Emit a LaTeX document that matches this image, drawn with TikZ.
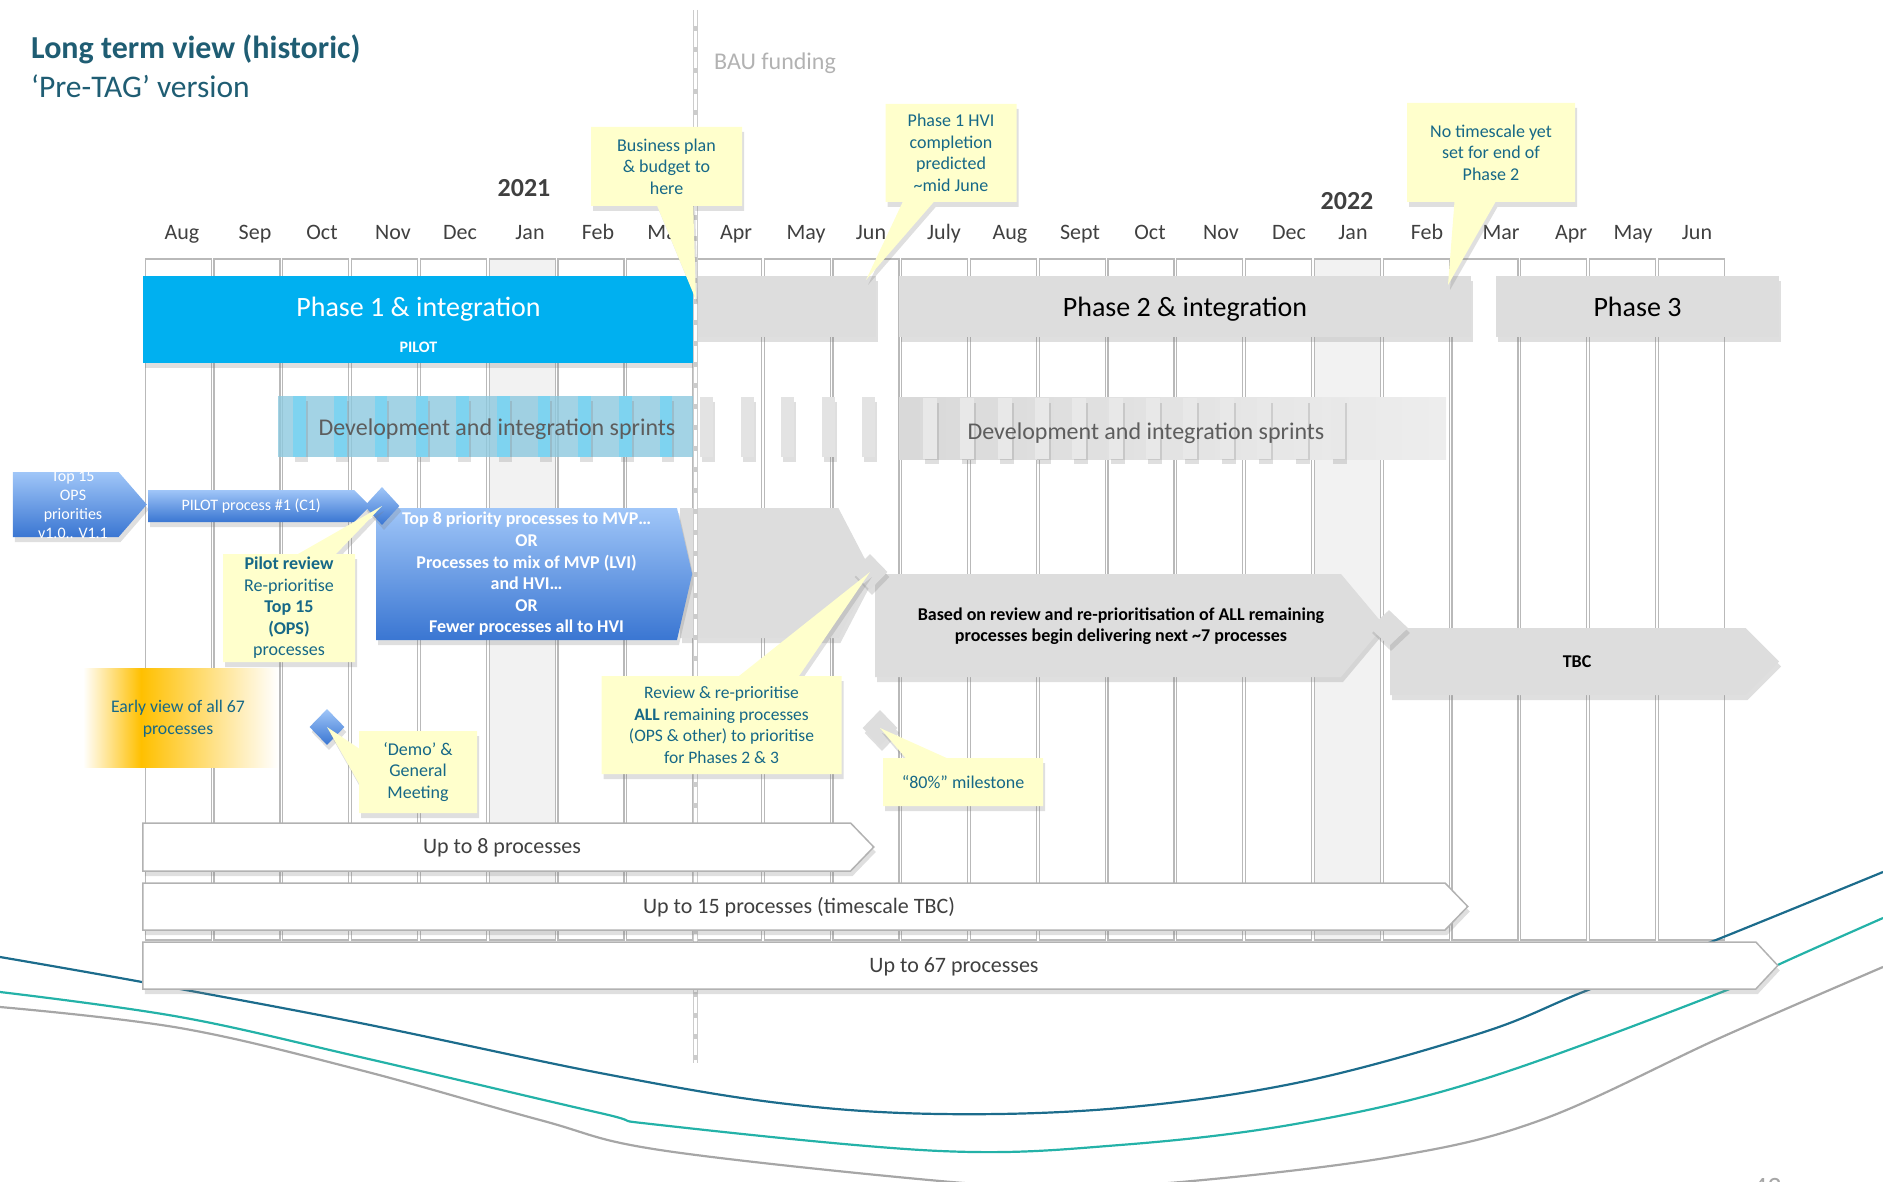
\documentclass[tikz,border=0pt]{standalone}
\usepackage{fontspec}
\setmainfont{Carlito}
\usetikzlibrary{shapes.symbols, shapes.callouts, shapes.geometric, shadows}

\definecolor{titleteal}{RGB}{31,93,115}
\definecolor{noteteal}{RGB}{22,104,135}
\definecolor{noteyellow}{RGB}{255,255,204}
\definecolor{phaseblue}{RGB}{0,176,240}
\definecolor{bargray}{RGB}{221,221,221}
\definecolor{lightblue}{RGB}{160,198,248}
\definecolor{darkblue}{RGB}{58,118,210}
\definecolor{sprintbox}{RGB}{140,200,222}
\definecolor{sprintbar}{RGB}{126,211,240}
\definecolor{curveteal}{RGB}{28,108,140}
\definecolor{curvegreen}{RGB}{36,178,168}
\definecolor{curvegray}{RGB}{166,166,166}
\definecolor{darktext}{RGB}{64,64,64}
\definecolor{earlyorange}{RGB}{255,192,0}

\begin{document}
\begin{tikzpicture}[x = 1pt, y = -1pt,
    shadowed/.style = {drop shadow = {shadow xshift = 2pt, shadow yshift = -5pt, opacity = 0.25}},
    monthcol/.style = {draw = gray!55, line width = 1.2pt},
    monthlabel/.style = {anchor = base, text = darktext, font = \fontsize{22}{24}\selectfont},
    yearlabel/.style = {anchor = base, text = darktext, font = \bfseries\fontsize{26}{28}\selectfont},
    phasebar/.style = {rectangle, inner sep = 0pt, minimum height = 61pt, text depth = 0pt, fill = bargray, shadowed, font = \fontsize{28}{32}\selectfont},
    sprintlabel/.style = {text = darktext!85, font = \fontsize{24}{26}\selectfont},
    pentagon/.style = {signal, signal to = east, signal from = nowhere, anchor = west, inner sep = 0pt, align = center, shadowed},
    bluearrow/.style = {pentagon, top color = lightblue, bottom color = darkblue, text = white},
    grayarrow/.style = {pentagon, fill = bargray},
    whitearrow/.style = {pentagon, fill = white, draw = gray!60, line width = 1.5pt},
    graytext/.style = {align = center, text = black, font = \bfseries\fontsize{18}{21}\selectfont},
    whitetext/.style = {text = darktext, font = \fontsize{22}{24}\selectfont},
    milestone/.style = {diamond, inner sep = 0pt, minimum width = 35pt, minimum height = 36pt, shadowed},
    callnote/.style = {rectangle callout, fill = noteyellow, text = noteteal, align = center, inner sep = 2pt, font = \fontsize{18}{21.5}\selectfont, shadowed}
]
    \useasboundingbox (0, 0) rectangle (1883, 1182);

    \foreach \i in {5, 17}
        \fill[gray!10] (145.3+68.77*\i, 259) rectangle ++(66, 681);
    \foreach \i in {0,...,22}
        \draw[monthcol] (145.3+68.77*\i, 259) rectangle ++(66, 681);

    \draw[curveteal, line width = 2.2pt] plot[smooth, tension = 0.6] coordinates {(0,957) (142,982) (360,1023) (600,1073) (779,1103) (940,1114) (1120,1108) (1301,1082) (1481,1033) (1583,992) (1716,940) (1883,872)};
    \draw[curvegreen, line width = 2.2pt] plot[smooth, tension = 0.6] coordinates {(0,992) (180,1017) (360,1057) (600,1113) (660,1125) (940,1151) (1120,1145) (1301,1123) (1481,1080) (1722,992) (1782,963) (1883,918)};
    \draw[curvegray, line width = 2.2pt] plot[smooth, tension = 0.6] coordinates {(0,1007) (180,1028) (360,1070) (540,1120) (660,1150) (940,1181) (1060,1186) (1181,1182) (1391,1157) (1541,1120) (1722,1037) (1883,967)};

    \node[anchor = base west, inner sep = 0pt, text = titleteal, font = \bfseries\fontsize{32}{34}\selectfont] (title) at (31, 59) {Long term view (historic)};
    \node[anchor = base west, inner sep = 0pt, text = titleteal, font = \fontsize{31.5}{34}\selectfont] (subtitle) at (31, 98) {‘Pre-TAG’ version};
    \node[anchor = base west, inner sep = 0pt, text = gray!60, font = \fontsize{24}{26}\selectfont] (bau) at (714, 70) {BAU funding};

    \node[yearlabel] (y2021) at (524, 197) {2021};
    \node[yearlabel] (y2022) at (1347, 210) {2022};
    \foreach \m/\x [count = \n] in {Aug/182, Sep/255, Oct/322, Nov/393, Dec/460, Jan/530, Feb/598, Mar/666, Apr/736, May/806, Jun/871, July/944, Aug/1010, Sept/1080, Oct/1150, Nov/1221, Dec/1289, Jan/1353, Feb/1427, Mar/1501, Apr/1571, May/1633, Jun/1697}
        \node[monthlabel] (month\n) at (\x, 240) {\m};

    \node[rectangle, inner sep = 0pt, minimum width = 551pt, minimum height = 61pt, text depth = 0pt, fill = phaseblue, text = white, font = \fontsize{28}{32}\selectfont] (phase1) at (418.5, 306.5) {Phase 1 \& integration};
    \node[rectangle, inner sep = 0pt, minimum width = 551pt, minimum height = 32pt, fill = phaseblue, text = white, font = \bfseries\fontsize{16}{18}\selectfont, shadowed] (pilot) at (418.5, 347) {PILOT};
    \node[phasebar, minimum width = 180pt] (phase1b) at (786, 306.5) {};
    \node[phasebar, minimum width = 572pt] (phase2) at (1185, 306.5) {Phase 2 \& integration};
    \node[phasebar, minimum width = 283pt] (phase3) at (1637.5, 306.5) {Phase 3};

    \fill[sprintbox, fill opacity = 0.8] (278, 396) rectangle (695, 457);
    \foreach \k in {0,...,9}
        \fill[sprintbar, shadowed] (293.4+40.7*\k, 396) rectangle ++(12.6, 61);
    \foreach \k in {0,...,4}
        \fill[gray!22, shadowed] (700.4+40.5*\k, 397) rectangle ++(12.6, 60);
    \shade[left color = gray!30, right color = gray!14] (899, 397) rectangle (1446, 459);
    \foreach \k in {0,...,11}
        \fill[gray!18, shadowed] (923.4+37.05*\k, 398) rectangle ++(14, 61);
    \node[sprintlabel] (sprintsA) at (497, 429) {Development and integration sprints};
    \node[sprintlabel] (sprintsB) at (1146, 433) {Development and integration sprints};

    \node[bluearrow, minimum width = 134pt, minimum height = 65pt, signal pointer angle = 98] (top15) at (12.6, 504.5) {};
    \node[text = white, align = center, font = \fontsize{16}{19}\selectfont] (top15txt) at (73, 504.5) {Top 15\\ OPS\\ priorities\\ v1.0.. V1.1};
    \node[bluearrow, minimum width = 222pt, minimum height = 32pt, signal pointer angle = 90, font = \fontsize{16}{18}\selectfont] (pilotproc) at (148, 506) {PILOT process \#1 (C1)};
    \node[grayarrow, minimum width = 192pt, minimum height = 130pt, signal pointer angle = 125] (top8b) at (680, 573) {};
    \node[bluearrow, minimum width = 316pt, minimum height = 132pt, signal pointer angle = 154, font = \bfseries\fontsize{18}{21.6}\selectfont] (top8) at (376, 574) {Top 8 priority processes to MVP…\\ OR\\ Processes to mix of MVP (LVI)\\ and HVI…\\ OR\\ Fewer processes all to HVI};
    \node[grayarrow, minimum width = 509pt, minimum height = 103pt, signal pointer angle = 100] (based) at (875, 625.5) {};
    \node[graytext] (basedtxt) at (1121, 626.5) {Based on review and re-prioritisation of ALL remaining\\ processes begin delivering next \textasciitilde7 processes};
    \node[grayarrow, minimum width = 389pt, minimum height = 67pt, signal pointer angle = 90] (tbc) at (1390, 661.5) {};
    \node[graytext] (tbctxt) at (1577, 661.5) {TBC};

    \node[milestone, top color = lightblue, bottom color = darkblue, minimum height = 38pt] (pilotend) at (382, 506) {};
    \node[milestone, top color = lightblue, bottom color = darkblue] (demo) at (327, 727) {};
    \node[milestone, fill = bargray] (review) at (870, 572) {};
    \node[milestone, fill = bargray] (eighty) at (880, 728) {};
    \node[milestone, fill = bargray, minimum width = 38pt] (tbcstart) at (1389, 628) {};

    \shade[left color = white, right color = earlyorange] (83, 668) rectangle (141, 767);
    \shade[left color = earlyorange, right color = white] (141, 668) rectangle (278, 767);
    \node[text = noteteal, align = center, font = \fontsize{17.7}{21.5}\selectfont] (early) at (178, 719) {Early view of all 67\\ processes};

    \coordinate (bauTop) at (695, 10);
    \coordinate (bauBot) at (695, 1063);
    \draw[gray!40, line width = 5pt] (bauTop) -- (bauBot);
    \draw[white, line width = 3pt, dash pattern = on 16pt off 5pt] (bauTop) -- (bauBot);

    \node[whitearrow, minimum width = 731pt, minimum height = 48pt, signal pointer angle = 92] (upto8) at (142, 847) {};
    \node[whitetext] (upto8txt) at (502, 848) {Up to 8 processes};
    \node[whitearrow, minimum width = 1325pt, minimum height = 47pt, signal pointer angle = 92] (upto15) at (142, 906.5) {};
    \node[whitetext] (upto15txt) at (799, 907.5) {Up to 15 processes (timescale TBC)};
    \node[whitearrow, minimum width = 1635pt, minimum height = 47pt, signal pointer angle = 94] (upto67) at (142, 965.5) {};
    \node[whitetext] (upto67txt) at (954, 966.5) {Up to 67 processes};

    \coordinate (planTip) at (696, 300);
    \coordinate (hviTip) at (866, 280);
    \coordinate (phase2Tip) at (1448, 285);
    \node[callnote, minimum width = 151pt, minimum height = 79pt, callout absolute pointer = {(planTip)}, callout pointer width = 36pt] (plan) at (666.5, 166.5) {Business plan\\ \& budget to\\ here};
    \node[callnote, minimum width = 131pt, minimum height = 98pt, callout absolute pointer = {(hviTip)}, callout pointer width = 31pt] (hvi) at (951, 153) {Phase 1 HVI\\ completion\\ predicted\\ \textasciitilde mid June};
    \node[callnote, minimum width = 168pt, minimum height = 99pt, callout absolute pointer = {(phase2Tip)}, callout pointer width = 41pt] (notime) at (1491, 152.5) {No timescale yet\\ set for end of\\ Phase 2};
    \node[callnote, minimum width = 132pt, minimum height = 108pt, callout absolute pointer = {(pilotend.center)}, callout pointer width = 38pt] (pilotreview) at (289, 608) {\textbf{Pilot review}\\ Re-prioritise\\ \textbf{Top 15}\\ \textbf{(OPS)}\\ processes};
    \node[callnote, minimum width = 118pt, minimum height = 82pt, callout absolute pointer = {(demo.center)}, callout pointer width = 35pt] (demonote) at (418, 772) {‘Demo’ \&\\ General\\ Meeting};
    \node[callnote, minimum width = 240pt, minimum height = 98pt, font = \fontsize{17.5}{21.5}\selectfont, callout absolute pointer = {(review.center)}, callout pointer width = 60pt] (reviewnote) at (721.5, 725) {Review \& re-prioritise\\ \textbf{ALL} remaining processes\\ (OPS \& other) to prioritise\\ for Phases 2 \& 3};
    \node[callnote, minimum width = 160pt, minimum height = 48pt, callout absolute pointer = {(eighty.center)}, callout pointer width = 41pt] (eightynote) at (963, 782) {“80\%” milestone};

    \node[anchor = base west, inner sep = 0pt, text = gray!70, font = \fontsize{28}{30}\selectfont] (pagenum) at (1753, 1196) {43};
\end{tikzpicture}
\end{document}
